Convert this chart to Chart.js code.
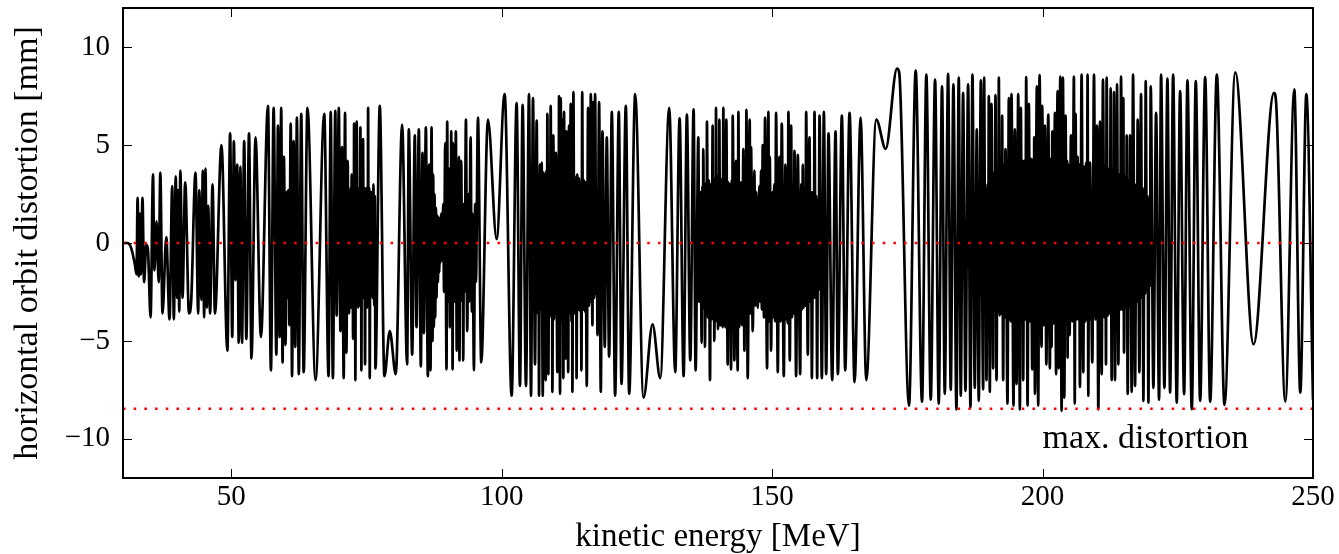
<!DOCTYPE html>
<html><head><meta charset="utf-8">
<script src="https://cdn.jsdelivr.net/npm/chart.js@4"></script>
<style>html,body{margin:0;padding:0;background:#fff} canvas{display:block}</style>
</head><body>
<canvas id="c" width="1339" height="554"></canvas>
<script>
// kinetic energy [MeV] of each sample (extrema of the trace)
const energy = [
30.0, 30.8, 31.5, 32.2, 32.5, 32.7, 32.9, 33.1, 33.3, 33.6,
33.9, 34.3, 34.6, 35.1, 35.55, 35.8, 36.2, 36.6, 36.9, 37.3,
38.0, 38.6, 39.1, 39.4, 39.75, 40.0, 40.2, 40.4, 40.6, 41.0,
41.5, 42.2, 42.6, 43.4, 43.9, 44.1, 44.5, 44.75, 45.0, 45.25,
45.5, 45.75, 46.1, 46.55, 47.0,
48.2, 49.3, 49.8, 50.2, 50.5, 50.8, 51.1, 51.4, 51.7, 52.0,
52.4, 52.8, 53.3, 53.75, 54.5, 55.5, 56.8,
57.35, 57.85, 58.35, 58.65, 58.95, 59.25, 59.5, 59.75, 60.05, 60.25,
60.4, 60.55, 60.75, 61.0, 61.25, 61.55, 61.85, 62.15, 62.5, 62.95,
63.4, 64.1, 65.6,
67.2, 68.0, 68.4, 68.8, 69.25, 69.5, 69.9, 70.2, 70.5, 70.8,
71.05, 71.3, 71.55, 71.65, 71.72, 71.8, 71.9, 72.0, 72.08, 72.16,
72.28, 72.36, 72.45, 72.53, 72.62, 72.67, 72.72, 72.8, 72.88, 72.96,
73.05, 73.13, 73.21, 73.3, 73.38, 73.46, 73.58, 73.68, 73.89, 73.95,
74.01, 74.07, 74.17, 74.28, 74.38, 74.5, 74.62, 74.75, 74.85, 74.93,
75.0, 75.12, 75.2, 75.25, 75.31, 75.42, 75.52, 75.62, 75.72, 75.8,
75.88, 75.96, 76.05, 76.15, 76.3, 76.45, 76.55, 76.67, 77.47, 78.33,
79.32, 80.43, 81.6, 82.53, 82.84, 83.46, 83.95, 84.26, 84.69, 85.06,
85.37, 85.62, 85.99, 86.36,
86.6, 86.85, 87.04, 87.22, 87.35, 87.47, 87.6, 87.72, 87.85, 87.96,
88.1, 88.21, 88.35, 88.46, 88.6, 88.7, 88.82, 88.95, 89.2, 89.35,
89.57, 89.81, 89.94, 90.08, 90.18, 90.25, 90.31, 90.43, 90.55, 90.6,
90.68, 90.8, 90.86, 90.93, 91.05, 91.18, 91.24, 91.3, 91.54, 91.7,
91.85, 91.95, 92.1, 92.2, 92.35, 92.45, 92.53, 92.7, 92.8, 92.9,
93.05, 93.15, 93.4, 93.64, 93.85, 94.0, 94.26, 94.5, 94.6, 94.88,
95.1, 95.25, 95.62, 96.23, 97.47, 99.07, 100.55,
101.85, 102.77, 103.39, 103.88, 104.5, 105.06, 105.43, 105.8, 106.17, 106.48,
106.7, 106.8, 106.91, 107.09, 107.3, 107.4, 107.6, 107.78, 107.95, 108.05,
108.14, 108.3, 108.38, 108.45, 108.64, 108.8, 108.92, 109.07, 109.22, 109.3,
109.38, 109.56, 109.7, 109.85, 109.95, 110.05, 110.3, 110.45, 110.52, 110.61,
110.8, 110.92, 111.1, 111.23, 111.41, 111.54, 111.7, 111.78, 111.85, 111.97,
112.15, 112.22, 112.3, 112.46, 112.6, 112.77, 112.92, 113.0, 113.08, 113.27,
113.45, 113.55, 113.7, 113.77, 113.85, 114.0, 114.15, 114.32, 114.5, 114.6,
114.75, 114.9, 115.05, 115.24, 115.4, 115.5, 115.74, 115.98, 116.15, 116.25,
116.35, 116.48, 116.79, 116.91, 117.1, 117.28, 117.5, 117.6, 117.71, 118.02,
118.33, 118.64, 119.07, 119.44, 119.87, 120.37, 120.98, 121.66, 122.16, 122.96,
123.58, 124.69, 126.23, 127.9, 129.32, 130.98, 132.09, 132.9, 133.64, 134.25,
134.87, 135.49, 135.86,
136.36, 136.55, 136.75, 136.98, 137.12, 137.2, 137.28, 137.45, 137.52, 137.59,
137.8, 137.88, 137.96, 138.15, 138.3, 138.52, 138.7, 138.85, 139.01, 139.15,
139.22, 139.32, 139.48, 139.56, 139.63, 139.8, 139.9, 140.0, 140.12, 140.18,
140.25, 140.4, 140.48, 140.56, 140.75, 140.85, 140.99, 141.08, 141.17, 141.35,
141.54, 141.79, 141.95, 142.05, 142.16, 142.41, 142.55, 142.62, 142.72, 143.02,
143.33, 143.64, 143.77, 143.95, 144.1, 144.18, 144.26, 144.45, 144.69, 144.88,
145.05, 145.15, 145.25, 145.49, 145.86, 146.0, 146.11, 146.42, 146.73, 146.9,
147.05, 147.35, 147.65, 147.8, 147.96, 148.1, 148.27, 148.5, 148.7, 149.07,
149.32, 149.45, 149.57, 149.81, 150.06, 150.2, 150.4, 150.55, 150.74, 151.05,
151.36, 151.55, 151.79, 152.16, 152.47, 152.62, 152.75, 152.88, 153.02, 153.27,
153.52, 153.7, 153.9, 154.0, 154.14, 154.44, 154.75, 155.19, 155.4, 155.55,
155.68, 155.85, 156.0, 156.15, 156.3, 156.6, 156.91, 157.1, 157.2, 157.35,
157.6, 157.7, 157.84, 158.05, 158.15, 158.33, 158.5, 158.6, 158.77, 159.2,
159.57, 160.0, 160.43, 161.11, 161.73, 162.16, 162.9, 163.52, 164.32, 165.25,
166.36, 167.41, 169.26, 171.0, 173.09, 173.5, 175.31, 176.55, 177.72, 178.52,
179.33, 180.13, 180.81, 181.42, 181.92, 182.54, 183.03, 183.52, 184.08, 184.51,
184.88, 185.31, 185.75, 186.24, 186.67, 187.04, 187.47, 187.84, 188.21, 188.59,
189.02, 189.2, 189.4, 189.5, 189.63, 189.85, 189.95, 190.07, 190.25, 190.4,
190.48, 190.56, 190.87, 191.0, 191.15, 191.3, 191.49, 191.7, 191.8, 191.92,
192.1, 192.3, 192.4, 192.53, 192.72, 192.9, 193.0, 193.15, 193.52, 193.77,
193.95, 194.05, 194.14, 194.26, 194.63, 194.88, 195.19, 195.5, 195.81, 195.99,
196.2, 196.3, 196.42, 196.61, 196.8, 196.98, 197.23, 197.47, 197.7, 197.85,
198.09, 198.3, 198.4, 198.46, 198.59, 198.95, 199.2, 199.45, 199.82, 199.94,
200.2, 200.44, 200.7, 201.06, 201.35, 201.55, 201.67, 201.8, 202.05, 202.29,
202.5, 202.78, 203.0, 203.28, 203.52, 203.77, 204.02, 204.26, 204.45, 204.55,
204.63, 204.76, 205.0, 205.25, 205.5, 205.8, 205.95, 206.11, 206.3, 206.48,
206.65, 206.75, 206.91, 207.22, 207.53, 207.72, 207.9, 208.05, 208.18, 208.33,
208.46, 208.6, 208.68, 208.77, 209.2, 209.51, 209.8, 210.06, 210.31, 210.62,
210.93, 211.17, 211.45, 211.6, 211.73, 211.85, 212.1, 212.3, 212.45, 212.59,
212.78, 213.0, 213.1, 213.21, 213.39, 213.6, 213.68, 213.77, 214.01, 214.25,
214.35, 214.51, 214.75, 214.94, 215.06, 215.3, 215.45, 215.56, 215.74, 215.95,
216.05, 216.17, 216.48, 216.73, 217.1, 217.35, 217.45, 217.59, 217.9, 218.21,
218.4, 218.5, 218.64, 218.85, 218.95, 219.07, 219.3, 219.4, 219.57, 219.75,
219.85, 220.0, 220.49, 220.99, 221.54, 221.91, 222.53, 223.09, 223.58, 224.14,
224.81, 225.43, 226.17, 226.79, 227.59, 228.33, 229.14, 230.06, 230.99, 232.22,
233.64, 235.62, 239.01, 242.78, 243.15, 244.88, 246.54, 247.65, 248.77, 250.0
];
// horizontal orbit distortion [mm] at each sample
const orbit = [
0.0, 0.0, -0.25, -1.1, -1.6, 2.3, -1.7, 1.5, -1.6, 2.3,
-2.0, -0.1, -0.3, -3.8, 3.5, -1.4, 1.1, -2.0, 3.6, -3.6,
0.3, -3.9, 2.9, -3.9, 3.4, -2.8, 2.7, -3.5, 3.7, -2.8,
3.1, -3.6, -3.0, 3.6, -3.6, 2.7, -2.9, 3.7, -3.8, 3.8,
-3.3, 1.9, -3.6, 3.0, -3.6,
5.0, -5.5, 5.6, -4.8, 5.2, -1.9, 4.0, -5.1, 3.9, -5.1,
5.2, -4.9, 5.6, -5.9, 5.4, -4.8, 7.0,
-6.5, 6.9, -5.7, 6.0, -4.8, 6.9, -6.1, 4.4, -5.2, 2.6,
-2.8, 2.7, -4.2, 6.1, -6.8, 5.2, -5.3, 6.4, -6.7, 6.6,
-6.6, 6.9, -7.0,
6.6, -6.8, 6.7, -6.9, 6.75, -3.7, 6.9, -4.5, 4.9, -6.9,
6.65, -5.6, 4.2, -2.6, 2.4, -3.6, 2.6, -2.7, 2.8, -3.3,
3.5, -2.8, 2.6, -4.9, 2.7, -2.7, 6.1, -2.8, 2.8, -7.0,
2.8, -2.8, 6.2, -2.8, 2.7, -3.3, 2.8, -3.2, 5.9, -2.8,
2.8, -6.5, 2.8, -2.8, 5.3, -2.8, 2.8, -6.2, 2.6, -2.6,
2.8, -3.3, 2.6, -2.6, 6.9, -2.8, 2.8, -6.9, 2.5, -2.4,
2.6, -2.6, 2.4, -2.8, 3.0, -3.2, 2.4, -6.4, 7.0, -6.8,
-4.5, -6.7, 6.05, -6.2, 5.8, -5.7, 5.5, -4.3, 5.8, -6.3,
4.6, -4.6, 5.9, -6.8,
4.0, -6.5, 5.9, -5.0, 3.5, -4.3, 2.5, -3.8, 1.8, -2.8,
1.4, -2.0, 1.3, -1.5, 1.1, -1.0, 1.5, -0.9, 2.0, -2.5,
5.1, -6.45, 6.2, -3.0, 2.6, -2.8, 3.8, -4.3, 2.6, -2.7,
5.7, -2.8, 2.6, -6.45, 5.1, -2.8, 2.7, -3.0, 5.7, -5.5,
2.0, -3.0, 4.4, -6.0, 2.5, -2.5, 4.2, -3.0, 2.0, -6.0,
2.0, -2.5, 6.3, -4.5, 2.5, -3.0, 5.4, -3.5, 1.5, -6.5,
2.0, -2.0, 6.4, -6.1, 6.3, 0.2, 7.6,
-7.8, 7.15, -7.3, 7.05, -7.3, 7.6, -7.8, 7.4, -6.2, 6.25,
-3.6, 3.4, -7.8, 4.0, -3.4, 4.1, -7.8, 3.6, -3.3, 3.5,
-7.0, 3.7, -3.5, 6.6, -6.7, 3.9, -3.6, 7.0, -3.8, 3.6,
-7.6, 5.5, -3.9, 3.8, -3.5, 4.6, -6.6, 3.9, -3.7, 7.5,
-7.7, 7.4, -4.0, 6.3, -6.9, 6.7, -3.8, 3.6, -5.9, 5.7,
-3.9, 3.5, -6.6, 6.0, -3.6, 7.1, -4.0, 3.8, -7.6, 7.7,
-3.6, 3.4, -3.5, 3.2, -6.9, 3.5, -3.4, 3.3, -3.5, 3.0,
-6.5, 7.7, -3.4, 3.2, -3.5, 3.1, -7.3, 6.9, -3.2, 2.8,
-3.0, 7.6, -4.2, 7.2, -2.8, 7.6, -2.6, 2.2, -4.7, 7.2,
-7.6, 5.7, -5.3, 5.4, -5.8, 6.7, -7.8, 6.7, -7.2, 7.0,
-7.7, 7.6, -7.9, -4.15, -6.9, 6.9, -6.6, 6.36, -6.8, 6.56,
-6.0, 6.82, -6.5,
5.4, -3.0, 2.6, -5.1, 2.9, -3.3, 4.8, -3.4, 3.0, -5.3,
3.1, -3.6, 6.2, -3.8, 3.2, -7.0, 3.0, -3.9, 6.0, -3.7,
3.3, -5.0, 3.1, -4.0, 6.9, -3.8, 3.4, -4.4, 3.2, -4.1,
6.3, -4.2, 3.3, -4.2, 3.0, -4.3, 6.9, -4.0, 3.2, -4.3,
6.3, -6.2, 3.1, -4.3, 3.0, -6.45, 3.2, -4.1, 6.5, -6.0,
4.2, -6.5, 6.7, -4.3, 3.0, -4.0, 3.1, -4.2, 4.8, -5.5,
3.0, -4.2, 6.8, -6.9, 6.3, -3.6, 4.9, -4.5, 3.7, -3.2,
2.6, -3.3, 2.9, -3.0, 3.7, -3.4, 5.0, -3.8, 6.4, -6.4,
6.7, -4.0, 4.4, -5.5, 2.6, -3.8, 3.0, -4.0, 6.65, -6.6,
4.4, -4.0, 6.1, -6.8, 4.0, -3.9, 3.1, -4.1, 6.7, -6.0,
6.0, -3.8, 3.0, -3.6, 4.7, -6.8, 4.5, -6.7, 3.0, -3.4,
4.0, -3.3, 2.8, -3.2, 6.7, -5.7, 5.4, -3.0, 2.6, -6.9,
2.6, -2.8, 6.7, -2.8, 2.4, -6.9, 2.2, -2.4, 6.5, -6.9,
6.7, -6.7, 5.6, -7.0, 5.7, -6.7, 6.5, -6.5, 6.65, -7.1,
6.4, -7.0, 6.3, 4.8, 8.9, 8.7, -8.3, 8.8, -8.1, 8.6,
-8.0, 8.35, -8.2, 8.0, -7.7, 8.64, -7.5, 8.1, -8.5, 8.44,
-7.8, 7.67, -7.55, 8.1, -8.4, 8.6, -7.4, 5.8, -8.06, 8.3,
-7.47, 8.44, -2.6, 2.8, -7.0, 3.0, -2.9, 7.5, -7.6, 3.3,
-3.2, 7.1, -6.4, 3.6, -3.4, 7.55, -7.0, 3.8, -3.5, 8.44,
-3.7, 3.9, -3.6, 6.5, -7.0, 4.0, -3.8, 4.8, -8.2, 7.4,
-3.9, 4.1, -4.0, 7.6, -8.3, 5.8, -7.2, 7.6, -8.5, 6.9,
-4.0, 4.2, -7.0, 4.2, -3.9, 8.47, -8.3, 7.1, -4.0, 4.3,
-6.45, 4.3, -4.1, 5.4, -7.7, 8.0, -8.3, 8.57, -5.3, 7.0,
-4.2, 6.0, -6.2, 6.56, -6.4, 4.3, -5.3, 5.7, -4.1, 6.65,
-6.7, 7.76, -6.4, 8.5, -8.57, 8.44, -7.9, 6.5, -4.0, 4.2,
-5.85, 4.0, -4.7, 5.5, -4.0, 8.5, -8.2, 6.6, -3.9, 4.4,
-3.9, 4.0, -7.35, 8.6, -6.6, 3.9, -4.0, 4.1, -3.8, 8.6,
-7.8, 4.0, -3.9, 4.1, -6.1, 8.6, -3.9, 6.0, -8.5, 6.2,
-6.7, 8.35, -3.8, 3.9, -6.2, 8.44, -3.7, 3.8, -3.6, 7.9,
-7.0, 3.8, -3.6, 7.7, -7.0, 3.6, -3.5, 8.1, -6.2, 3.5,
-3.4, 8.5, -3.4, 7.4, -5.6, 3.4, -3.3, 5.5, -7.7, 3.2,
-3.2, 5.5, -7.6, 8.6, -7.3, 3.0, -3.0, 6.3, -6.6, 7.6,
-2.8, 2.8, -8.06, 2.6, -2.6, 8.27, -2.4, 2.4, -8.15, 2.2,
-2.2, 8.0, -7.4, 6.65, -8.0, 8.6, -7.4, 8.4, -7.64, 8.6,
-8.15, 7.76, -7.72, 8.3, -8.49, 8.27, -8.06, 8.47, -8.1, 8.6,
-8.27, 8.72, -5.17, 7.67, 7.3, -8.1, 7.84, -7.64, 7.6, -8.0
];
const xTicks = [50, 100, 150, 200, 250];
const yTicks = [-10, -5, 0, 5, 10];
const xRange = [30, 250];
const yRange = [-12, 12];
const zeroLevel = 0;
const maxDistortion = -8.47;
const noteText = 'max. distortion';
const noteAt = [200, -10.45];
const xTitle = 'kinetic energy [MeV]';
const yTitle = 'horizontal orbit distortion [mm]';

if (energy.length !== orbit.length) throw new Error('length mismatch ' + energy.length + ' vs ' + orbit.length);
for (let i = 1; i < energy.length; i++) if (energy[i] <= energy[i - 1]) throw new Error('unsorted at ' + i + ': ' + energy[i]);

const serif = "'Liberation Serif', 'Times New Roman', serif";

const framePlugin = {
  id: 'frame',
  afterDatasetsDraw(chart) {
    const {ctx, chartArea: a, scales: {x, y}} = chart;
    ctx.save();
    ctx.strokeStyle = '#000';
    ctx.lineWidth = 1;
    const L = 9;
    ctx.beginPath();
    xTicks.forEach(v => {
      const px = Math.round(x.getPixelForValue(v)) + 0.5;
      ctx.moveTo(px, a.bottom); ctx.lineTo(px, a.bottom - L);
      ctx.moveTo(px, a.top); ctx.lineTo(px, a.top + L);
    });
    yTicks.forEach(v => {
      const py = Math.round(y.getPixelForValue(v)) + 0.5;
      ctx.moveTo(a.left, py); ctx.lineTo(a.left + L, py);
      ctx.moveTo(a.right, py); ctx.lineTo(a.right - L, py);
    });
    ctx.stroke();
    ctx.lineWidth = 2;
    ctx.strokeRect(a.left, a.top, a.right - a.left, a.bottom - a.top);
    ctx.fillStyle = '#000';
    ctx.font = '34px ' + serif;
    ctx.textAlign = 'left';
    ctx.textBaseline = 'alphabetic';
    ctx.fillText(noteText, x.getPixelForValue(noteAt[0]), y.getPixelForValue(noteAt[1]));
    ctx.restore();
  }
};

const dotted = {borderColor: '#ff0000', borderWidth: 2.5, borderDash: [2.5, 8.2], borderCapStyle: 'butt', pointRadius: 0, fill: false, order: 0};

new Chart(document.getElementById('c'), {
  type: 'line',
  data: {
    datasets: [
      Object.assign({label: 'zero', data: [{x: xRange[0], y: zeroLevel}, {x: xRange[1], y: zeroLevel}]}, dotted),
      Object.assign({label: 'max', data: [{x: xRange[0], y: maxDistortion}, {x: xRange[1], y: maxDistortion}]}, dotted),
      {label: 'orbit', data: energy.map((e, i) => ({x: e, y: orbit[i]})), borderColor: '#000', borderWidth: 2.7,
       pointRadius: 0, fill: false, cubicInterpolationMode: 'monotone', order: 1}
    ]
  },
  options: {
    responsive: false, devicePixelRatio: 1, animation: false,
    layout: {padding: {top: 8, right: 26, bottom: 0, left: 0}},
    plugins: {legend: {display: false}, tooltip: {enabled: false}},
    scales: {
      x: {
        type: 'linear', min: xRange[0], max: xRange[1],
        afterBuildTicks: s => { s.ticks = xTicks.map(v => ({value: v})); },
        afterFit: s => { s.height = 76; s.paddingLeft = 0; s.paddingRight = 0; },
        grid: {display: false, drawTicks: false}, border: {display: false},
        ticks: {padding: 2, color: '#000', font: {family: serif, size: 29}, maxRotation: 0, autoSkip: false},
        title: {display: true, text: xTitle, color: '#000', font: {family: serif, size: 33, lineHeight: 1.0}, padding: {top: 0, bottom: 0}}
      },
      y: {
        type: 'linear', min: yRange[0], max: yRange[1],
        afterBuildTicks: s => { s.ticks = yTicks.map(v => ({value: v})); },
        afterFit: s => { s.width = 123; s.paddingTop = 0; s.paddingBottom = 0; },
        grid: {display: false, drawTicks: false}, border: {display: false},
        ticks: {padding: 13, color: '#000', font: {family: serif, size: 29},
                callback: v => v < 0 ? '\u2212' + Math.abs(v) : String(v)},
        title: {display: true, text: yTitle, color: '#000', font: {family: serif, size: 34, lineHeight: 1.2}, padding: {top: 8, bottom: 0}}
      }
    }
  },
  plugins: [framePlugin]
});
</script>
</body></html>
